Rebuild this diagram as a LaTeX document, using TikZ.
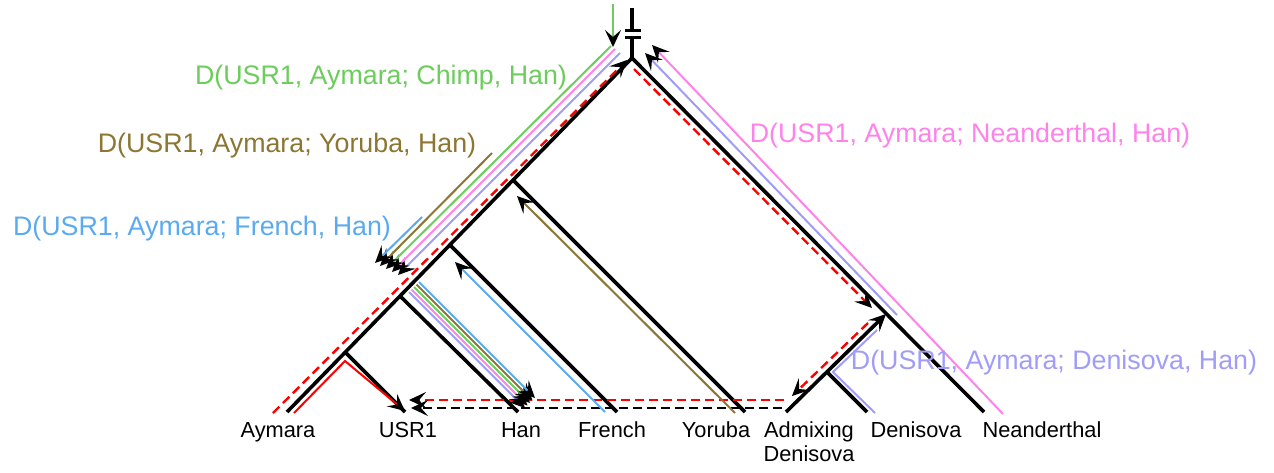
\documentclass[tikz,border=0pt]{standalone}
\usepackage{fontspec}
\setmainfont{Liberation Sans}
\usetikzlibrary{arrows.meta}
\definecolor{cgreen}{RGB}{108,204,92}
\definecolor{colive}{RGB}{140,118,50}
\definecolor{cblue}{RGB}{90,170,240}
\definecolor{cpink}{RGB}{255,130,235}
\definecolor{clav}{RGB}{160,156,248}
\definecolor{cred}{RGB}{255,0,0}
\tikzset{
  tree/.style={line width=1.8pt, black},
  dline/.style={line width=1pt},
  tip/.style={-{Stealth[length=8.5pt,width=8pt,inset=3.5pt,color=black]}},
  rdash/.style={line width=1.2pt, cred, dash pattern=on 4.5pt off 2.5pt},
  kdash/.style={line width=1.2pt, black, dash pattern=on 4.5pt off 2.5pt},
  taxon/.style={font=\fontsize{10.9}{12.5}\selectfont, anchor=base, inner sep=0pt},
  dlabel/.style={font=\fontsize{13.4}{15}\selectfont, inner sep=0pt},
}
\begin{document}
\begin{tikzpicture}[x=0.5pt,y=-0.5pt]
\useasboundingbox (0,0) rectangle (1274,472);
% tree coordinates
\coordinate (top) at (632,8);
\coordinate (b1) at (632,30.5);
\coordinate (b2) at (632,37.5);
\coordinate (b1l) at (625,30.5); \coordinate (b1r) at (641,30.5);
\coordinate (b2l) at (625,37.5); \coordinate (b2r) at (641,37.5);
\coordinate (root) at (632,58);
\coordinate (nyor) at (513,180);
\coordinate (nfr) at (450,245);
\coordinate (nhan) at (400,296);
\coordinate (nau) at (345,352);
\coordinate (taym) at (287,412);
\coordinate (tusr) at (405,412);
\coordinate (than) at (518,412);
\coordinate (tfr) at (617,412);
\coordinate (tyor) at (745,412);
\coordinate (tnea) at (984,412);
\coordinate (J) at (886,314);
\coordinate (tadm) at (786,412);
\coordinate (nden) at (827,372);
\coordinate (tden) at (867,412);
% tree
\draw[tree] (top) -- (b1);
\draw[tree] (b2) -- (root);
\draw[tree] (b1l) -- (b1r);
\draw[tree] (b2l) -- (b2r);
\draw[tree] (taym) -- (root) -- (tnea);
\draw[tree] (nyor) -- (tyor);
\draw[tree] (nfr) -- (tfr);
\draw[tree] (nhan) -- (than);
\draw[tree] (nau) -- (tusr);
\draw[tree] (nden) -- (tden);
\draw[tree, tip] (tadm) -- (J);
% red solid
\coordinate (rs1) at (294,413); \coordinate (rs2) at (345,361); \coordinate (rs3) at (405,411);
\draw[dline, cred, tip] (rs1) -- (rs2) -- (rs3);
% red dashed
\coordinate (rd1) at (273,413); \coordinate (rd2) at (627,60);
\coordinate (rd3) at (634,69); \coordinate (rd4) at (872,308);
\coordinate (rd5) at (868,323); \coordinate (rd6) at (792,396);
\coordinate (rd7) at (784,400); \coordinate (rd8) at (409,400);
\draw[rdash, tip] (rd1) -- (rd2);
\draw[rdash, tip] (rd3) -- (rd4);
\draw[rdash, tip] (rd5) -- (rd6);
\draw[rdash, tip] (rd7) -- (rd8);
% black dashed
\coordinate (kd1) at (782,408); \coordinate (kd2) at (411,408);
\draw[kdash, tip] (kd1) -- (kd2);
% green vertical
\coordinate (gv1) at (613,4); \coordinate (gv2) at (613,47);
\draw[dline, cgreen, tip] (gv1) -- (gv2);
% left colored lines
\coordinate (l1a) at (620,53); \coordinate (l1b) at (398,275);
\coordinate (p1a) at (615,49); \coordinate (p1b) at (392,272);
\coordinate (g1a) at (611,46); \coordinate (g1b) at (386,269);
\coordinate (o1a) at (492,153); \coordinate (o1b) at (380,266);
\coordinate (u1a) at (422,217); \coordinate (u1b) at (375,263);
\draw[dline, clav, tip] (l1a) -- (l1b);
\draw[dline, cpink, tip] (p1a) -- (p1b);
\draw[dline, cgreen, tip] (g1a) -- (g1b);
\draw[dline, colive, tip] (o1a) -- (o1b);
\draw[dline, cblue, tip] (u1a) -- (u1b);
% Han colored lines
\coordinate (l2a) at (409,292); \coordinate (l2b) at (525,408);
\coordinate (p2a) at (411.5,289.5); \coordinate (p2b) at (527.5,405.5);
\coordinate (g2a) at (414,287); \coordinate (g2b) at (530,403);
\coordinate (o2a) at (416.5,284.5); \coordinate (o2b) at (532.5,400.5);
\coordinate (u2a) at (419,282); \coordinate (u2b) at (535,398);
\draw[dline, clav, tip] (l2a) -- (l2b);
\draw[dline, cpink, tip] (p2a) -- (p2b);
\draw[dline, cgreen, tip] (g2a) -- (g2b);
\draw[dline, colive, tip] (o2a) -- (o2b);
\draw[dline, cblue, tip] (u2a) -- (u2b);
% French, Yoruba
\coordinate (u3a) at (605,412); \coordinate (u3b) at (455,262);
\coordinate (o3a) at (735,413); \coordinate (o3b) at (517,196);
\draw[dline, cblue, tip] (u3a) -- (u3b);
\draw[dline, colive, tip] (o3a) -- (o3b);
% right side
\coordinate (p4a) at (1003,414); \coordinate (p4b) at (652,45);
\coordinate (l4a) at (897,315); \coordinate (l4b) at (645,53);
\draw[dline, cpink, tip] (p4a) -- (p4b);
\draw[dline, clav, tip] (l4a) -- (l4b);
\coordinate (l5a) at (875,413); \coordinate (l5b) at (833,372); \coordinate (l5c) at (877,330);
\draw[dline, clav] (l5a) -- (l5b) -- (l5c);
% D labels
\node[dlabel, text=cgreen] (lg) at (381,78) {D(USR1, Aymara; Chimp, Han)};
\node[dlabel, text=colive] (lo) at (287,146) {D(USR1, Aymara; Yoruba, Han)};
\node[dlabel, text=cblue] (lb) at (202,229) {D(USR1, Aymara; French, Han)};
\node[dlabel, text=cpink] (lp) at (970,136) {D(USR1, Aymara; Neanderthal, Han)};
\node[dlabel, text=clav] (ll) at (1054,363) {D(USR1, Aymara; Denisova, Han)};
% taxa
\node[taxon] (xaym) at (278,437) {Aymara};
\node[taxon] (xusr) at (408,437) {USR1};
\node[taxon] (xhan) at (521,437) {Han};
\node[taxon] (xfr) at (612,437) {French};
\node[taxon] (xyor) at (716,437) {Yoruba};
\node[taxon] (xadm1) at (809,437) {Admixing};
\node[taxon] (xadm2) at (809,461) {Denisova};
\node[taxon] (xden) at (916,437) {Denisova};
\node[taxon] (xnea) at (1042,437) {Neanderthal};
\end{tikzpicture}
\end{document}
